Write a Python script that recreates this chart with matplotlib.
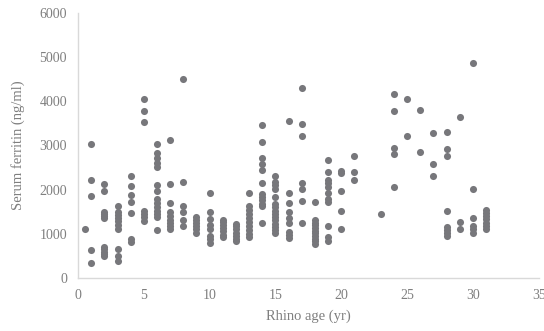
import matplotlib
matplotlib.use("Agg")
import matplotlib.pyplot as plt

# rhino age (yr) for each column of points
ages = [0.5, 1, 2, 3, 4, 5, 6, 7, 8, 9, 10, 11, 12, 13, 14, 15, 16, 17,
        18, 19, 20, 21, 23, 24, 25, 26, 27, 28, 29, 30, 31]

ferritin = [
    [1100],
    [3030, 2220, 1850, 640, 340],
    [2120, 1980, 1500, 1450, 1400, 1350, 700, 650, 600, 550, 500],
    [1640, 1500, 1430, 1350, 1280, 1200, 1120, 660, 500, 380],
    [2300, 2090, 1880, 1710, 1470, 880, 820],
    [4050, 3770, 3520, 1510, 1450, 1380, 1300],
    [3030, 2840, 2710, 2600, 2520, 2110, 1980, 1800, 1700, 1600, 1520, 1450, 1390, 1090],
    [3130, 2120, 1690, 1500, 1400, 1320, 1250, 1180, 1100],
    [4510, 2170, 1620, 1500, 1320, 1170],
    [1390, 1320, 1250, 1180, 1100, 1030],
    [1920, 1500, 1330, 1200, 1120, 960, 880, 800],
    [1320, 1260, 1200, 1130, 1060, 980, 930],
    [1230, 1170, 1100, 1030, 960, 890, 830],
    [1920, 1620, 1530, 1440, 1350, 1260, 1170, 1080, 1000, 920],
    [3470, 3070, 2720, 2580, 2450, 2160, 1900, 1830, 1760, 1680, 1620, 1250],
    [2300, 2180, 2100, 2020, 1830, 1680, 1600, 1520, 1450, 1380, 1320, 1230, 1150, 1080, 1020],
    [3560, 1920, 1690, 1490, 1370, 1240, 1050, 980, 900],
    [4290, 3490, 3220, 2160, 2010, 1750, 1240],
    [1710, 1310, 1250, 1190, 1130, 1070, 1010, 950, 890, 830, 760],
    [2670, 2390, 2220, 2140, 2070, 1920, 1780, 1720, 1170, 940, 830],
    [2430, 2370, 1980, 1520, 1100],
    [2760, 2410, 2210],
    [1450],
    [4170, 3780, 2940, 2800, 2060],
    [4060, 3220],
    [3810, 2850],
    [3280, 2590, 2310],
    [3310, 2930, 2760, 1520, 1160, 1090, 1020, 950],
    [3640, 1260, 1120],
    [4860, 2020, 1350, 1170, 1100, 1030],
    [1550, 1480, 1400, 1330, 1250, 1180, 1100],
]

x_ticks = [0, 5, 10, 15, 20, 25, 30, 35]
y_ticks = [0, 1000, 2000, 3000, 4000, 5000, 6000]

xs, ys = [], []
for a, vals in zip(ages, ferritin):
    for v in vals:
        xs.append(a)
        ys.append(v)

plt.rcParams['font.family'] = ['Liberation Serif', 'DejaVu Serif']
txt = '#7f7f7f'

fig = plt.figure(figsize=(5.44, 3.31), dpi=100)
ax = fig.add_axes([0.1434, 0.160, 0.847, 0.801])
ax.scatter(xs, ys, s=26, color='#77777b', linewidths=0, zorder=3)

ax.set_xlim(0, 35)
ax.set_ylim(0, 6000)
ax.set_xticks(x_ticks)
ax.set_yticks(y_ticks)
ax.tick_params(length=0, labelsize=10, colors=txt, pad=8)
for s in ['top', 'right']:
    ax.spines[s].set_visible(False)
for s in ['left', 'bottom']:
    ax.spines[s].set_color('#d9d9d9')
    ax.spines[s].set_linewidth(1)

ax.set_xlabel('Rhino age (yr)', fontsize=10.5, color=txt, labelpad=5)
ax.set_ylabel('Serum ferritin (ng/ml)', fontsize=10.5, color=txt, labelpad=10)

fig.savefig('out.png', dpi=100)
